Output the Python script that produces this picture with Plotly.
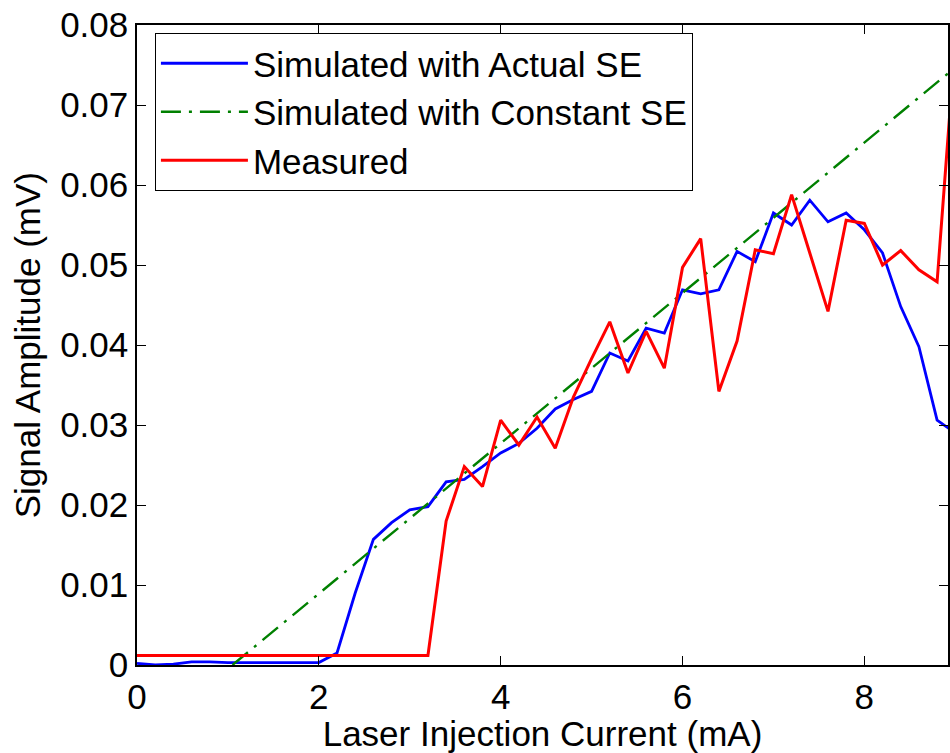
import plotly.graph_objects as go

# ---- data ----
x_blue = [0.0, 0.2, 0.4, 0.6, 0.8, 1.0, 1.2, 1.4, 1.6, 1.8, 2.0, 2.2, 2.4, 2.6, 2.8,
          3.0, 3.2, 3.4, 3.6, 3.8, 4.0, 4.2, 4.4, 4.6, 4.8, 5.0, 5.2, 5.4, 5.6, 5.8,
          6.0, 6.2, 6.4, 6.6, 6.8, 7.0, 7.2, 7.4, 7.6, 7.8, 8.0, 8.2, 8.4, 8.6, 8.8, 9.0]
y_blue = [0.0002, 0.0, 0.0001, 0.0004, 0.0004, 0.0003, 0.0003, 0.0003, 0.0003, 0.0003,
          0.0003, 0.0015, 0.0090, 0.0157, 0.0178, 0.0194, 0.0198, 0.0229, 0.0232, 0.0248,
          0.0265, 0.0277, 0.0296, 0.0320, 0.0332, 0.0342, 0.0390, 0.0380, 0.0421, 0.0415,
          0.0469, 0.0464, 0.0469, 0.0517, 0.0504, 0.0565, 0.0550, 0.0581, 0.0554, 0.0565,
          0.0544, 0.0515, 0.0448, 0.0398, 0.0306, 0.0290]

x_green = [1.05, 2.0, 4.0, 6.0, 8.0, 9.0]
y_green = [0.0, 0.0089, 0.0277, 0.0465, 0.0653, 0.0747]

x_red = [0.0, 0.4, 0.8, 1.2, 1.6, 2.0, 2.4, 2.8, 3.2, 3.4, 3.6, 3.8, 4.0, 4.2, 4.4,
         4.6, 4.8, 5.0, 5.2, 5.4, 5.6, 5.8, 6.0, 6.2, 6.4, 6.6, 6.8, 7.0, 7.2, 7.4,
         7.6, 7.8, 8.0, 8.2, 8.4, 8.6, 8.8, 9.0]
y_red = [0.0012, 0.0012, 0.0012, 0.0012, 0.0012, 0.0012, 0.0012, 0.0012, 0.0012, 0.0180,
         0.0248, 0.0223, 0.0306, 0.0275, 0.0310, 0.0271, 0.0335, 0.0383, 0.0429, 0.0365,
         0.0417, 0.0371, 0.0497, 0.0533, 0.0342, 0.0405, 0.0519, 0.0514, 0.0588, 0.0515,
         0.0442, 0.0556, 0.0552, 0.0500, 0.0518, 0.0494, 0.0479, 0.0780]

names = ["Simulated with Actual SE", "Simulated with Constant SE", "Measured"]

x_ticks = [0, 2, 4, 6, 8]
y_ticks = [0, 0.01, 0.02, 0.03, 0.04, 0.05, 0.06, 0.07, 0.08]
y_tick_text = ["0", "0.01", "0.02", "0.03", "0.04", "0.05", "0.06", "0.07", "0.08"]
x_title = "Laser Injection Current (mA)"
y_title = "Signal Amplitude (mV)"

FONT = "Liberation Sans, Arial, sans-serif"

fig = go.Figure()
fig.add_trace(go.Scatter(x=x_blue, y=y_blue, mode="lines", name=names[0],
                         line=dict(color="#0000FF", width=2.8)))
fig.add_trace(go.Scatter(x=x_green, y=y_green, mode="lines", name=names[1],
                         line=dict(color="#008000", width=2.4, dash="20px,8px,3px,8px")))
fig.add_trace(go.Scatter(x=x_red, y=y_red, mode="lines", name=names[2],
                         line=dict(color="#FF0000", width=3)))

axis_common = dict(showline=True, linecolor="black", linewidth=1.5, mirror="ticks",
                   ticks="inside", ticklen=9, tickwidth=1, tickcolor="black",
                   showgrid=False, zeroline=False,
                   tickfont=dict(family=FONT, size=35, color="black"))

fig.update_xaxes(range=[0, 8.92], tickvals=x_ticks, ticktext=[str(t) for t in x_ticks],
                 title=dict(text=x_title, standoff=6,
                            font=dict(family=FONT, size=35, color="black")),
                 **axis_common)
fig.update_yaxes(range=[0, 0.08], tickvals=y_ticks, ticktext=y_tick_text,
                 **axis_common)

fig.add_annotation(text=y_title, xref="paper", yref="paper", x=-0.1353, y=0.5,
                   xanchor="center", yanchor="middle", textangle=-90, showarrow=False,
                   font=dict(family=FONT, size=35, color="black"))

fig.update_layout(
    width=950, height=753,
    margin=dict(l=137, r=0, t=25, b=88),
    paper_bgcolor="white", plot_bgcolor="white",
    font=dict(family=FONT, color="black"),
    showlegend=True,
    legend=dict(x=0.0221, y=0.9875, xanchor="left", yanchor="top",
                bgcolor="white", bordercolor="black", borderwidth=1,
                font=dict(family=FONT, size=35, color="black"),
                itemwidth=87, tracegroupgap=0),
)

# remove the default page margin so the figure sits at the window's top-left corner
fig.write_html("out.html", config={"displayModeBar": False},
               post_script="document.body.style.margin='0';document.body.style.overflow='hidden';")
